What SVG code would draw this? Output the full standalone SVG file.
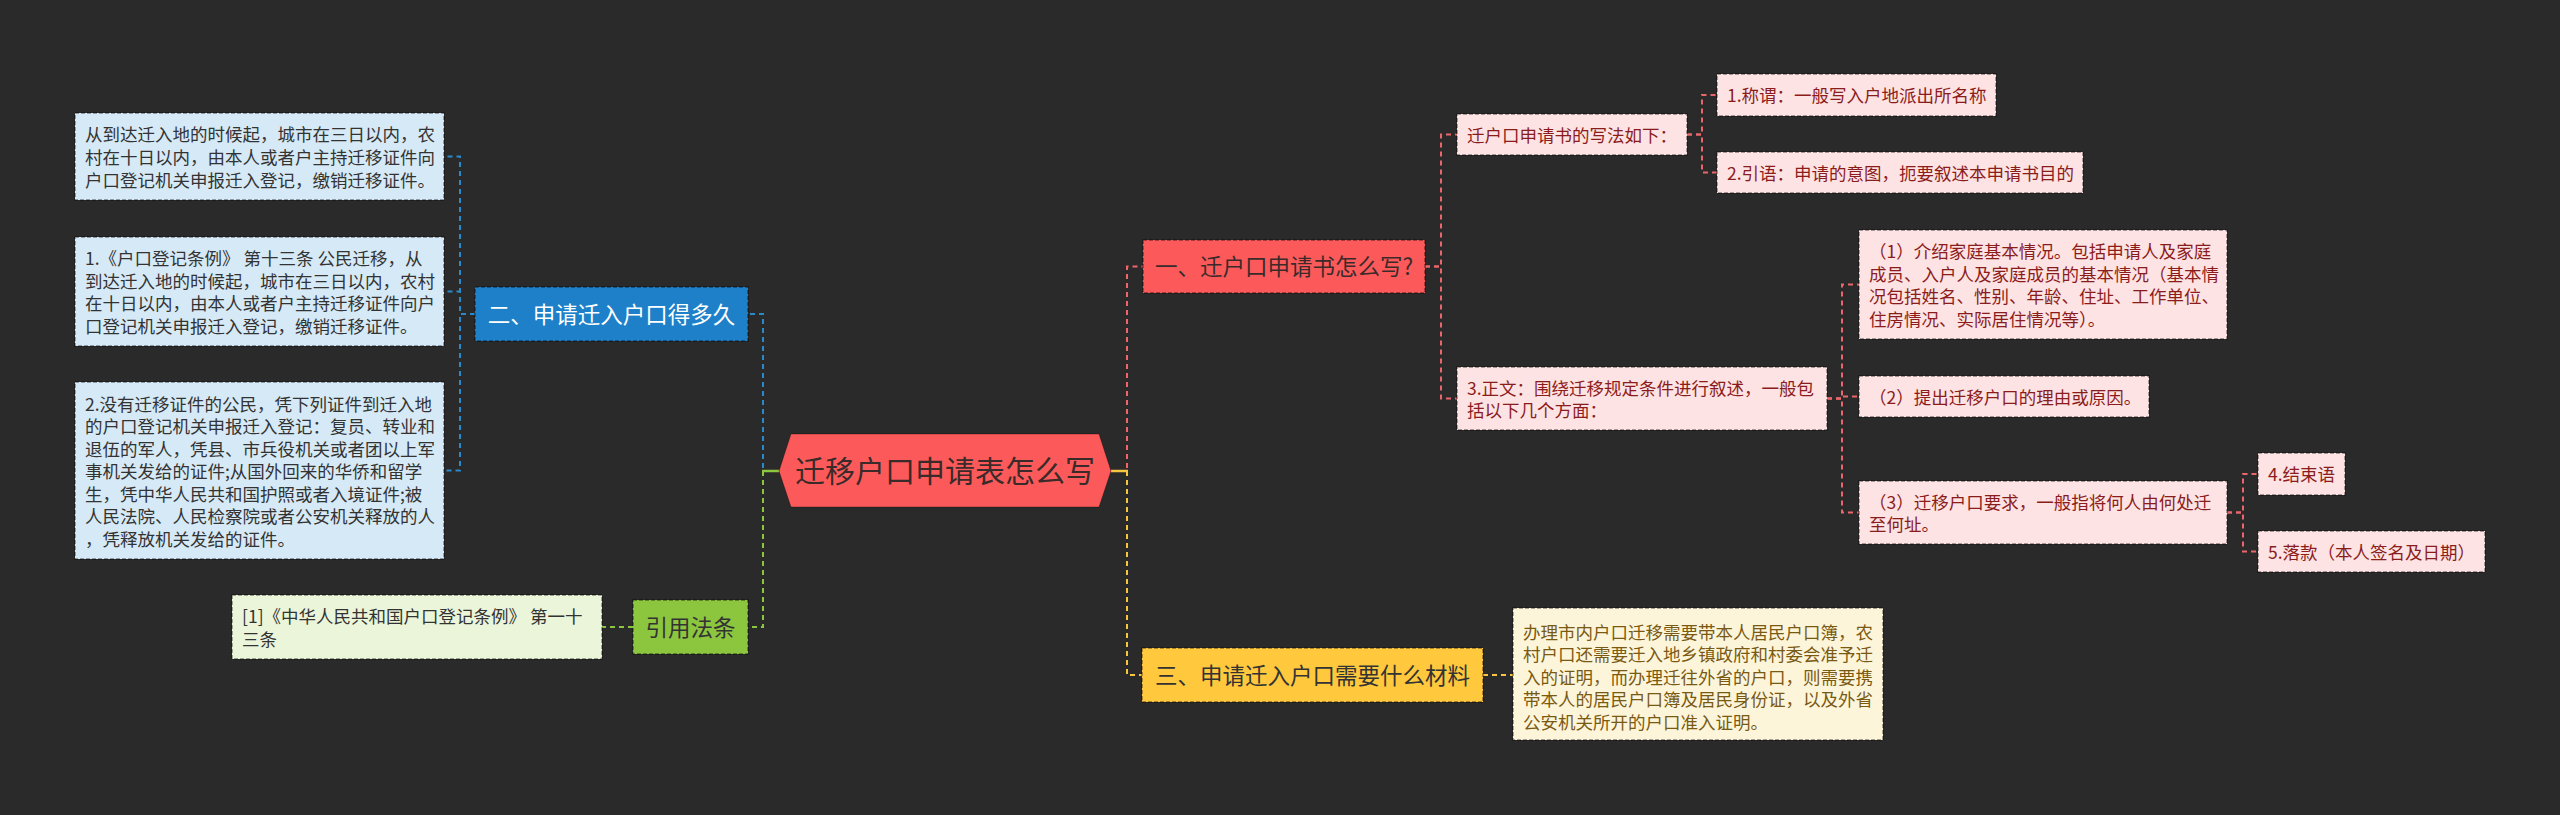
<svg xmlns="http://www.w3.org/2000/svg" width="2560" height="815" viewBox="0 0 2560 815">
<style>
text{font-family:"Noto Sans CJK SC","Noto Sans",sans-serif;white-space:pre}
.leaf{font-size:17.5px}
.br{font-size:22.5px;text-anchor:middle}
.box{stroke:rgba(0,0,0,0.45);stroke-width:1.5;stroke-dasharray:4 2}
.c{fill:none;stroke-width:2;stroke-dasharray:5 4}
.s{fill:none;stroke-width:2.5}
.cb{stroke:#2a88cc}.cg{stroke:#8cc63f}.cr{stroke:#f0646a}.cy{stroke:#f7c640}.cp{stroke:#e9666c}
.fb{fill:#d6e9f6}.fg{fill:#ebf5d9}.fp{fill:#fde3e3}.fy{fill:#fdf5da}
.tb{fill:#333333}.tp{fill:#8b1c1c}.ty{fill:#7a5a12}
</style>
<rect width="2560" height="815" fill="#2a2a2a"/>
<g id="connectors">
<path class="c cb" d="M763 468V314H748"/>
<path class="c cg" d="M763 471V627H748"/>
<path class="c cr" d="M1127 468V266.5H1143"/>
<path class="c cy" d="M1127 471V675H1142"/>
<path class="s cg" d="M779 471H762"/>
<path class="s cy" d="M1111 471H1128"/>
<path class="c cb" d="M475 314H460V156.5H444"/>
<path class="c cb" d="M475 314H460V291.5H444"/>
<path class="c cb" d="M475 314H460V470.5H444"/>
<path class="c cg" d="M633 627H602"/>
<path class="c cy" d="M1483 675H1513"/>
<path class="c cp" d="M1425 266.5H1441V134.5H1457"/>
<path class="c cp" d="M1425 266.5H1441V398.5H1457"/>
<path class="c cp" d="M1687 134.5H1702V95H1717"/>
<path class="c cp" d="M1687 134.5H1702V172.5H1717"/>
<path class="c cp" d="M1827 398.5H1842V284.5H1859"/>
<path class="c cp" d="M1827 398.5H1842V396.5H1859"/>
<path class="c cp" d="M1827 398.5H1842V512.5H1859"/>
<path class="c cp" d="M2227 512.5H2243V474H2258"/>
<path class="c cp" d="M2227 512.5H2243V551.5H2258"/>
</g>
<g id="root">
<polygon points="779,471 791,434 1099,434 1111,471 1099,507 791,507" fill="#fc5a5a" stroke="rgba(0,0,0,0.3)" stroke-width="1"/>
<text x="945" y="482" font-size="30" text-anchor="middle" fill="#3a2a2a">迁移户口申请表怎么写</text>
</g>
<g id="n-blue">
<rect class="box" x="475" y="287" width="273" height="54" fill="#1e80c8"/>
<text class="br" x="611.5" y="322.5" fill="#ffffff">二、申请迁入户口得多久</text>
</g>
<g id="n-blue-a">
<rect class="box fb" x="75" y="113" width="369" height="87"/>
<text class="leaf tb"><tspan x="85" y="141">从到达迁入地的时候起，城市在三日以内，农</tspan><tspan x="85" y="164">村在十日以内，由本人或者户主持迁移证件向</tspan><tspan x="85" y="186.5">户口登记机关申报迁入登记，缴销迁移证件。</tspan></text>
</g>
<g id="n-blue-b">
<rect class="box fb" x="75" y="237" width="369" height="109"/>
<text class="leaf tb"><tspan x="85" y="265">1.《户口登记条例》 第十三条 公民迁移，从</tspan><tspan x="85" y="287.5">到达迁入地的时候起，城市在三日以内，农村</tspan><tspan x="85" y="310">在十日以内，由本人或者户主持迁移证件向户</tspan><tspan x="85" y="332.5">口登记机关申报迁入登记，缴销迁移证件。</tspan></text>
</g>
<g id="n-blue-c">
<rect class="box fb" x="75" y="382" width="369" height="177"/>
<text class="leaf tb"><tspan x="85" y="410.5">2.没有迁移证件的公民，凭下列证件到迁入地</tspan><tspan x="85" y="433">的户口登记机关申报迁入登记：复员、转业和</tspan><tspan x="85" y="455.5">退伍的军人，凭县、市兵役机关或者团以上军</tspan><tspan x="85" y="478">事机关发给的证件;从国外回来的华侨和留学</tspan><tspan x="85" y="500.5">生，凭中华人民共和国护照或者入境证件;被</tspan><tspan x="85" y="523">人民法院、人民检察院或者公安机关释放的人</tspan><tspan x="85" y="545.5">，凭释放机关发给的证件。</tspan></text>
</g>
<g id="n-green">
<rect class="box" x="633" y="600" width="115" height="54" fill="#8cc63f"/>
<text class="br" x="690.5" y="635.5" fill="#333333">引用法条</text>
</g>
<g id="n-green-a">
<rect class="box fg" x="232" y="595" width="370" height="64"/>
<text class="leaf tb"><tspan x="242" y="623">[1]《中华人民共和国户口登记条例》 第一十</tspan><tspan x="242" y="645.5">三条</tspan></text>
</g>
<g id="n-red">
<rect class="box" x="1143" y="240" width="282" height="53" fill="#fc5a5a"/>
<text class="br" x="1284" y="275" fill="#3a2a2a">一、迁户口申请书怎么写?</text>
</g>
<g id="n-red-a">
<rect class="box fp" x="1457" y="114" width="230" height="41"/>
<text class="leaf tp" x="1467" y="141.5">迁户口申请书的写法如下：</text>
</g>
<g id="n-red-a1">
<rect class="box fp" x="1717" y="74" width="279" height="42"/>
<text class="leaf tp" x="1727" y="102">1.称谓：一般写入户地派出所名称</text>
</g>
<g id="n-red-a2">
<rect class="box fp" x="1717" y="152" width="366" height="41"/>
<text class="leaf tp" x="1727" y="179.5">2.引语：申请的意图，扼要叙述本申请书目的</text>
</g>
<g id="n-red-b">
<rect class="box fp" x="1457" y="367" width="370" height="63"/>
<text class="leaf tp"><tspan x="1467" y="394.5">3.正文：围绕迁移规定条件进行叙述，一般包</tspan><tspan x="1467" y="417">括以下几个方面：</tspan></text>
</g>
<g id="n-red-b1">
<rect class="box fp" x="1859" y="230" width="368" height="109"/>
<text class="leaf tp"><tspan x="1869" y="258">（1）介绍家庭基本情况。包括申请人及家庭</tspan><tspan x="1869" y="280.5">成员、入户人及家庭成员的基本情况（基本情</tspan><tspan x="1869" y="303">况包括姓名、性别、年龄、住址、工作单位、</tspan><tspan x="1869" y="325.5">住房情况、实际居住情况等）。</tspan></text>
</g>
<g id="n-red-b2">
<rect class="box fp" x="1859" y="376" width="290" height="41"/>
<text class="leaf tp" x="1869" y="403.5">（2）提出迁移户口的理由或原因。</text>
</g>
<g id="n-red-b3">
<rect class="box fp" x="1859" y="481" width="368" height="63"/>
<text class="leaf tp"><tspan x="1869" y="508.5">（3）迁移户口要求，一般指将何人由何处迁</tspan><tspan x="1869" y="531">至何址。</tspan></text>
</g>
<g id="n-red-b3a">
<rect class="box fp" x="2258" y="453" width="87" height="42"/>
<text class="leaf tp" x="2268" y="481">4.结束语</text>
</g>
<g id="n-red-b3b">
<rect class="box fp" x="2258" y="531" width="227" height="41"/>
<text class="leaf tp" x="2268" y="558.5">5.落款（本人签名及日期）</text>
</g>
<g id="n-yellow">
<rect class="box" x="1142" y="648" width="341" height="54" fill="#ffc83d"/>
<text class="br" x="1312.5" y="683.5" fill="#333333">三、申请迁入户口需要什么材料</text>
</g>
<g id="n-yellow-a">
<rect class="box fy" x="1513" y="608" width="370" height="132"/>
<text class="leaf ty"><tspan x="1523" y="638.5">办理市内户口迁移需要带本人居民户口簿，农</tspan><tspan x="1523" y="661">村户口还需要迁入地乡镇政府和村委会准予迁</tspan><tspan x="1523" y="683.5">入的证明，而办理迁往外省的户口，则需要携</tspan><tspan x="1523" y="706">带本人的居民户口簿及居民身份证，以及外省</tspan><tspan x="1523" y="728.5">公安机关所开的户口准入证明。</tspan></text>
</g>
</svg>
